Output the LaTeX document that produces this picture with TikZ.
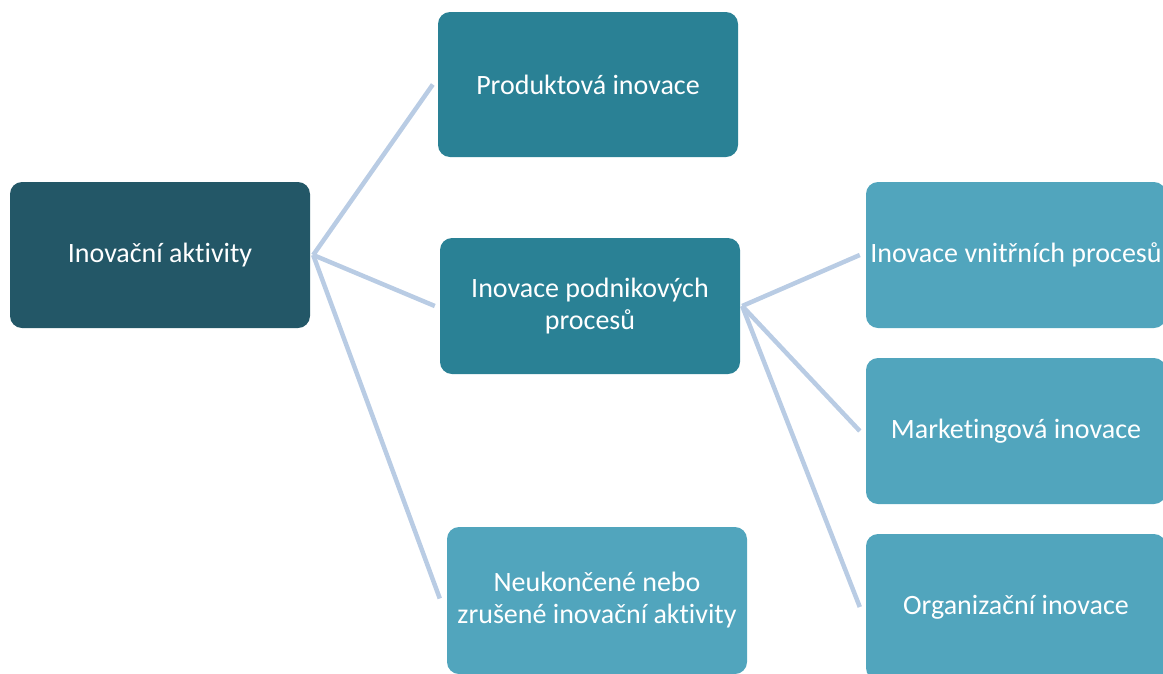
\documentclass[tikz,border=0pt]{standalone}
\usepackage{fontspec}
\setmainfont{Carlito}[RawFeature={-liga;-clig;-dlig;-rlig;-calt;-hlig}]
\definecolor{cdark}{HTML}{235767}
\definecolor{cmid}{HTML}{2A8195}
\definecolor{clight}{HTML}{51A5BD}
\definecolor{cline}{HTML}{B9CCE4}
\tikzset{
  box/.style={rounded corners=12pt, minimum width=300pt, minimum height=146pt, inner sep=0pt,
    text=white, align=center, font=\fontsize{28}{32}\selectfont},
  darkbox/.style={box, fill=cdark},
  midbox/.style={box, fill=cmid},
  lightbox/.style={box, fill=clight},
  conn/.style={draw=cline, line width=4.5pt}
}
\begin{document}
\begin{tikzpicture}[x=1pt,y=-1pt]
\useasboundingbox (0,0) rectangle (1163,673);
\node[darkbox] (root) at (160,255) {Inovační aktivity};
\node[midbox, minimum height=145pt] (prod) at (588,84.5) {Produktová inovace};
\node[midbox, minimum height=136pt] (proc) at (590,306) {Inovace podnikových\\procesů};
\node[lightbox, minimum height=147pt] (neuk) at (597,600.5) {Neukončené nebo\\zrušené inovační aktivity};
\node[lightbox] (vnit) at (1016,255) {Inovace vnitřních procesů};
\node[lightbox] (mark) at (1016,431) {Marketingová inovace};
\node[lightbox] (org) at (1016,607) {Organizační inovace};
\draw[conn] ([xshift=3pt]root.east) -- ([xshift=-5pt]prod.west);
\draw[conn] ([xshift=3pt]root.east) -- ([xshift=-5pt]proc.west);
\draw[conn] ([xshift=3pt]root.east) -- ([xshift=-7pt,yshift=2pt]neuk.west);
\draw[conn] ([xshift=2pt]proc.east) -- ([xshift=-6pt]vnit.west);
\draw[conn] ([xshift=2pt]proc.east) -- ([xshift=-6pt]mark.west);
\draw[conn] ([xshift=2pt]proc.east) -- ([xshift=-6pt]org.west);
\end{tikzpicture}
\end{document}
